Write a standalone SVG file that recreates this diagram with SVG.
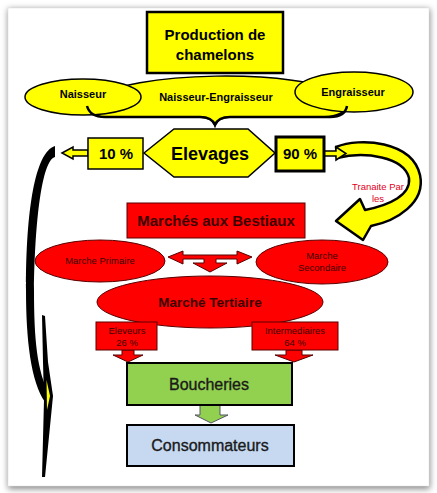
<svg xmlns="http://www.w3.org/2000/svg" width="437" height="493" viewBox="0 0 437 493">
<defs>
<filter id="sh" x="-5%" y="-5%" width="110%" height="110%"><feGaussianBlur stdDeviation="3"/></filter>
<style>
.y{fill:#ffff00;stroke:#000;stroke-width:1.5}
.r{fill:#ff0000;stroke:#5a0000;stroke-width:1}
.t{font-family:"Liberation Sans",Arial,sans-serif;text-anchor:middle}
.b{font-weight:bold}
.rt{fill:#3a0000}
.m{fill:#1a1a1a;stroke:#1a1a1a;stroke-width:0.35}
</style>
</defs>
<rect width="437" height="493" fill="#fff"/>
<rect x="8" y="9" width="422" height="480" fill="#8a8a8a" filter="url(#sh)"/>
<rect x="8" y="8" width="421" height="478" fill="#fff" stroke="#e0e0e0" stroke-width="0.5"/>

<g id="connectors">
  <path class="y" d="M62,153 L73,147 L73,150 L88,150 L88,156 L73,156 L73,159 Z"/>
  <path fill="#ffff00" stroke="#000" stroke-width="2.5" stroke-linejoin="round" d="M336,147 C360,137 412,141 420,175 C426,203 396,221 371,226 L363,240 L336,221 L360,199 L365,210 C390,205 411,195 409,178 C404,157 365,151 337,158 Z"/>
  <path class="y" d="M324,151 L336,151 L336,147 L346,153.5 L336,160 L336,156 L324,156 Z"/>
  <path fill="#000" d="M55,146 L55,157 C42,160 35,220 34,290 C34,340 37,370 49,394 L45,402 C31,382 26,340 26,290 C26,210 35,152 55,146 Z"/>
  <path fill="#000" d="M42,315 L45,316 L48,362 L53,396 L45,477 L42,477 L44,400 L43,362 Z"/>
  <path fill="#ffff00" d="M46.5,380 L50,396 L47,410 Z"/>
  <path class="r" d="M168,257 L183,251 L183,255 L237,255 L237,251 L252,257 L237,264 L237,259 L216,259 L216,263 L227,263 L210,272 L193,263 L204,263 L204,259 L183,259 L183,264 Z"/>
  <path class="r" d="M122,350 L134,350 L134,355 L143,355 L128,362 L113,355 L122,355 Z"/>
  <path class="r" d="M286,350 L302,350 L302,355 L313,355 L294,362 L275,355 L286,355 Z"/>
  <path fill="#92d050" stroke="#556" stroke-width="1" d="M200,405 L220,405 L220,415 L228,415 L211,423 L195,415 L200,415 Z"/>
</g>

<g id="production">
  <rect x="147" y="12" width="136" height="61" fill="#ffff00" stroke="#000" stroke-width="2.5"/>
  <text class="t b" x="215" y="40" font-size="15">Production de</text>
  <text class="t b" x="215" y="60" font-size="15">chamelons</text>
</g>

<g id="naisseur-engraisseur">
  <path class="y" d="M92,100 C125,70 305,68 342,95 L347,108 Q340,117 320,117 L230,117 Q218,118 215,125 Q212,118 200,117 L110,117 Q90,117 88,108 Z"/>
  <text class="t b" x="216" y="101" font-size="11">Naisseur-Engraisseur</text>
</g>
<g id="naisseur">
  <ellipse class="y" cx="83" cy="97" rx="58" ry="18"/>
  <text class="t b" x="83" y="98" font-size="11">Naisseur</text>
</g>
<g id="engraisseur">
  <ellipse class="y" cx="354" cy="92" rx="59" ry="20"/>
  <text class="t b" x="353" y="96" font-size="11">Engraisseur</text>
</g>
<path id="brace" d="M87,106 Q90,117 105,117 L200,117 Q212,117 215,125 Q218,117 230,117 L330,117 Q345,117 347,106" fill="none" stroke="#000" stroke-width="2.5"/>

<g id="elevages">
  <path class="y" d="M144,153 L174,129 L248,129 L275,153 L248,177 L174,177 Z"/>
  <text class="t b" x="210" y="160" font-size="18">Elevages</text>
</g>
<g id="p10">
  <rect class="y" x="88" y="138" width="55" height="31"/>
  <text class="t b" x="116" y="159" font-size="15">10 %</text>
</g>
<g id="p90">
  <rect x="276" y="137" width="48" height="34" fill="#ffff00" stroke="#000" stroke-width="3"/>
  <text class="t b" x="300" y="159" font-size="15">90 %</text>
</g>
<g id="transite">
  <text class="t" x="378" y="190" font-size="9.5" fill="#e0001b">Tranaite Par</text>
  <text class="t" x="378" y="202" font-size="9.5" fill="#e0001b">les</text>
</g>

<g id="marches">
  <rect class="r" x="127" y="203" width="178" height="35"/>
  <text class="t b rt" x="216" y="226" font-size="15">Marchés aux Bestiaux</text>
</g>
<g id="primaire">
  <ellipse class="r" cx="100" cy="261" rx="65" ry="21"/>
  <text class="t rt" x="100" y="264" font-size="9.5">Marche Primaire</text>
</g>
<g id="secondaire">
  <ellipse class="r" cx="322" cy="262" rx="66" ry="22"/>
  <text class="t rt" x="322" y="259" font-size="9.5">Marche</text>
  <text class="t rt" x="322" y="271" font-size="9.5">Secondaire</text>
</g>
<g id="tertiaire">
  <ellipse class="r" cx="210" cy="302" rx="113" ry="26"/>
  <text class="t b rt" x="210" y="307" font-size="13.5">Marché Tertiaire</text>
</g>
<g id="eleveurs">
  <rect class="r" x="96" y="322" width="61" height="28"/>
  <text class="t rt" x="127" y="334" font-size="9.5">Eleveurs</text>
  <text class="t rt" x="127" y="346" font-size="9.5">26 %</text>
</g>
<g id="intermediaires">
  <rect class="r" x="252" y="322" width="86" height="28"/>
  <text class="t rt" x="295" y="334" font-size="9.5">Intermediaires</text>
  <text class="t rt" x="295" y="346" font-size="9.5">64 %</text>
</g>
<g id="boucheries">
  <rect x="127" y="363" width="165" height="42" fill="#92d050" stroke="#000" stroke-width="2"/>
  <text class="t m" x="209" y="390" font-size="16">Boucheries</text>
</g>
<g id="consommateurs">
  <rect x="127" y="425" width="167" height="41" fill="#c6d9f1" stroke="#000" stroke-width="2"/>
  <text class="t m" x="210" y="451" font-size="16">Consommateurs</text>
</g>
</svg>
